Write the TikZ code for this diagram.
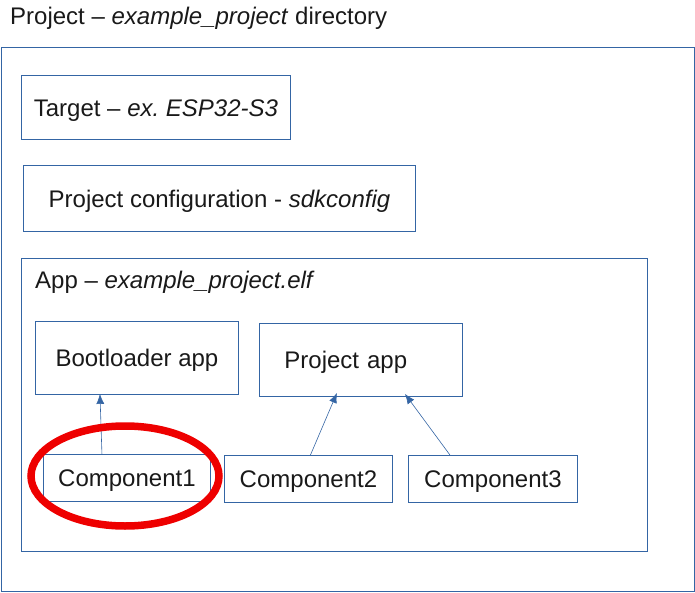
\documentclass[tikz,border=0pt]{standalone}
\usepackage{fontspec}
\setmainfont{Liberation Sans}
\usetikzlibrary{arrows.meta}
\definecolor{boxblue}{HTML}{3465A4}
\definecolor{markred}{HTML}{EE0000}
\tikzset{
  box/.style={draw=boxblue, line width=0.9, anchor=north west, inner sep=0, text height=17.2, text depth=0, align=center},
  link/.style={draw=boxblue, line width=0.6, -{Latex[length=10,width=8]}}
}

\begin{document}
\begin{tikzpicture}[x=1pt, y=-1pt, font=\fontsize{24}{28}\selectfont\frenchspacing, text=black!90]
    \useasboundingbox (0,0) rectangle (695,593);
    \draw[boxblue, line width=0.9] (1,47) rectangle (694,591);
    \node[anchor=west, inner sep=0] (projtitle) at (10,18) {Project – \textit{example\_project} directory};
    \node[box, minimum width=269, minimum height=64] (target) at (21,75) {Target – \textit{ex. ESP32-S3}};
    \node[box, minimum width=392, minimum height=66] (config) at (23,165) {Project configuration - \textit{sdkconfig}};
    \draw[boxblue, line width=0.9] (21,258) rectangle (647,551);
    \node[anchor=west, inner sep=0] (apptitle) at (35,282) {App – \textit{example\_project.elf}};
    \node[box, minimum width=203, minimum height=73] (boot) at (35,321) {Bootloader app};
    \node[box, minimum width=203, minimum height=73, inner xsep=25, text width=153, align=left] (projapp) at (259,323) {Project app};
    \node[box, minimum width=167, minimum height=47] (comp1) at (43,454) {Component1};
    \node[box, minimum width=168, minimum height=47] (comp2) at (224,455) {Component2};
    \node[box, minimum width=169, minimum height=47] (comp3) at (408,455) {Component3};
    \draw[link] ([xshift=-25]comp1.north) -- ([xshift=-37,yshift=1]boot.south);
    \draw[link] ([xshift=2]comp2.north) -- ([xshift=-24,yshift=4]projapp.south);
    \draw[link] ([xshift=-43]comp3.north) -- ([xshift=44,yshift=3]projapp.south);
    \draw[markred, line width=7.5] (125,476) ellipse (94 and 50);
\end{tikzpicture}
\end{document}
